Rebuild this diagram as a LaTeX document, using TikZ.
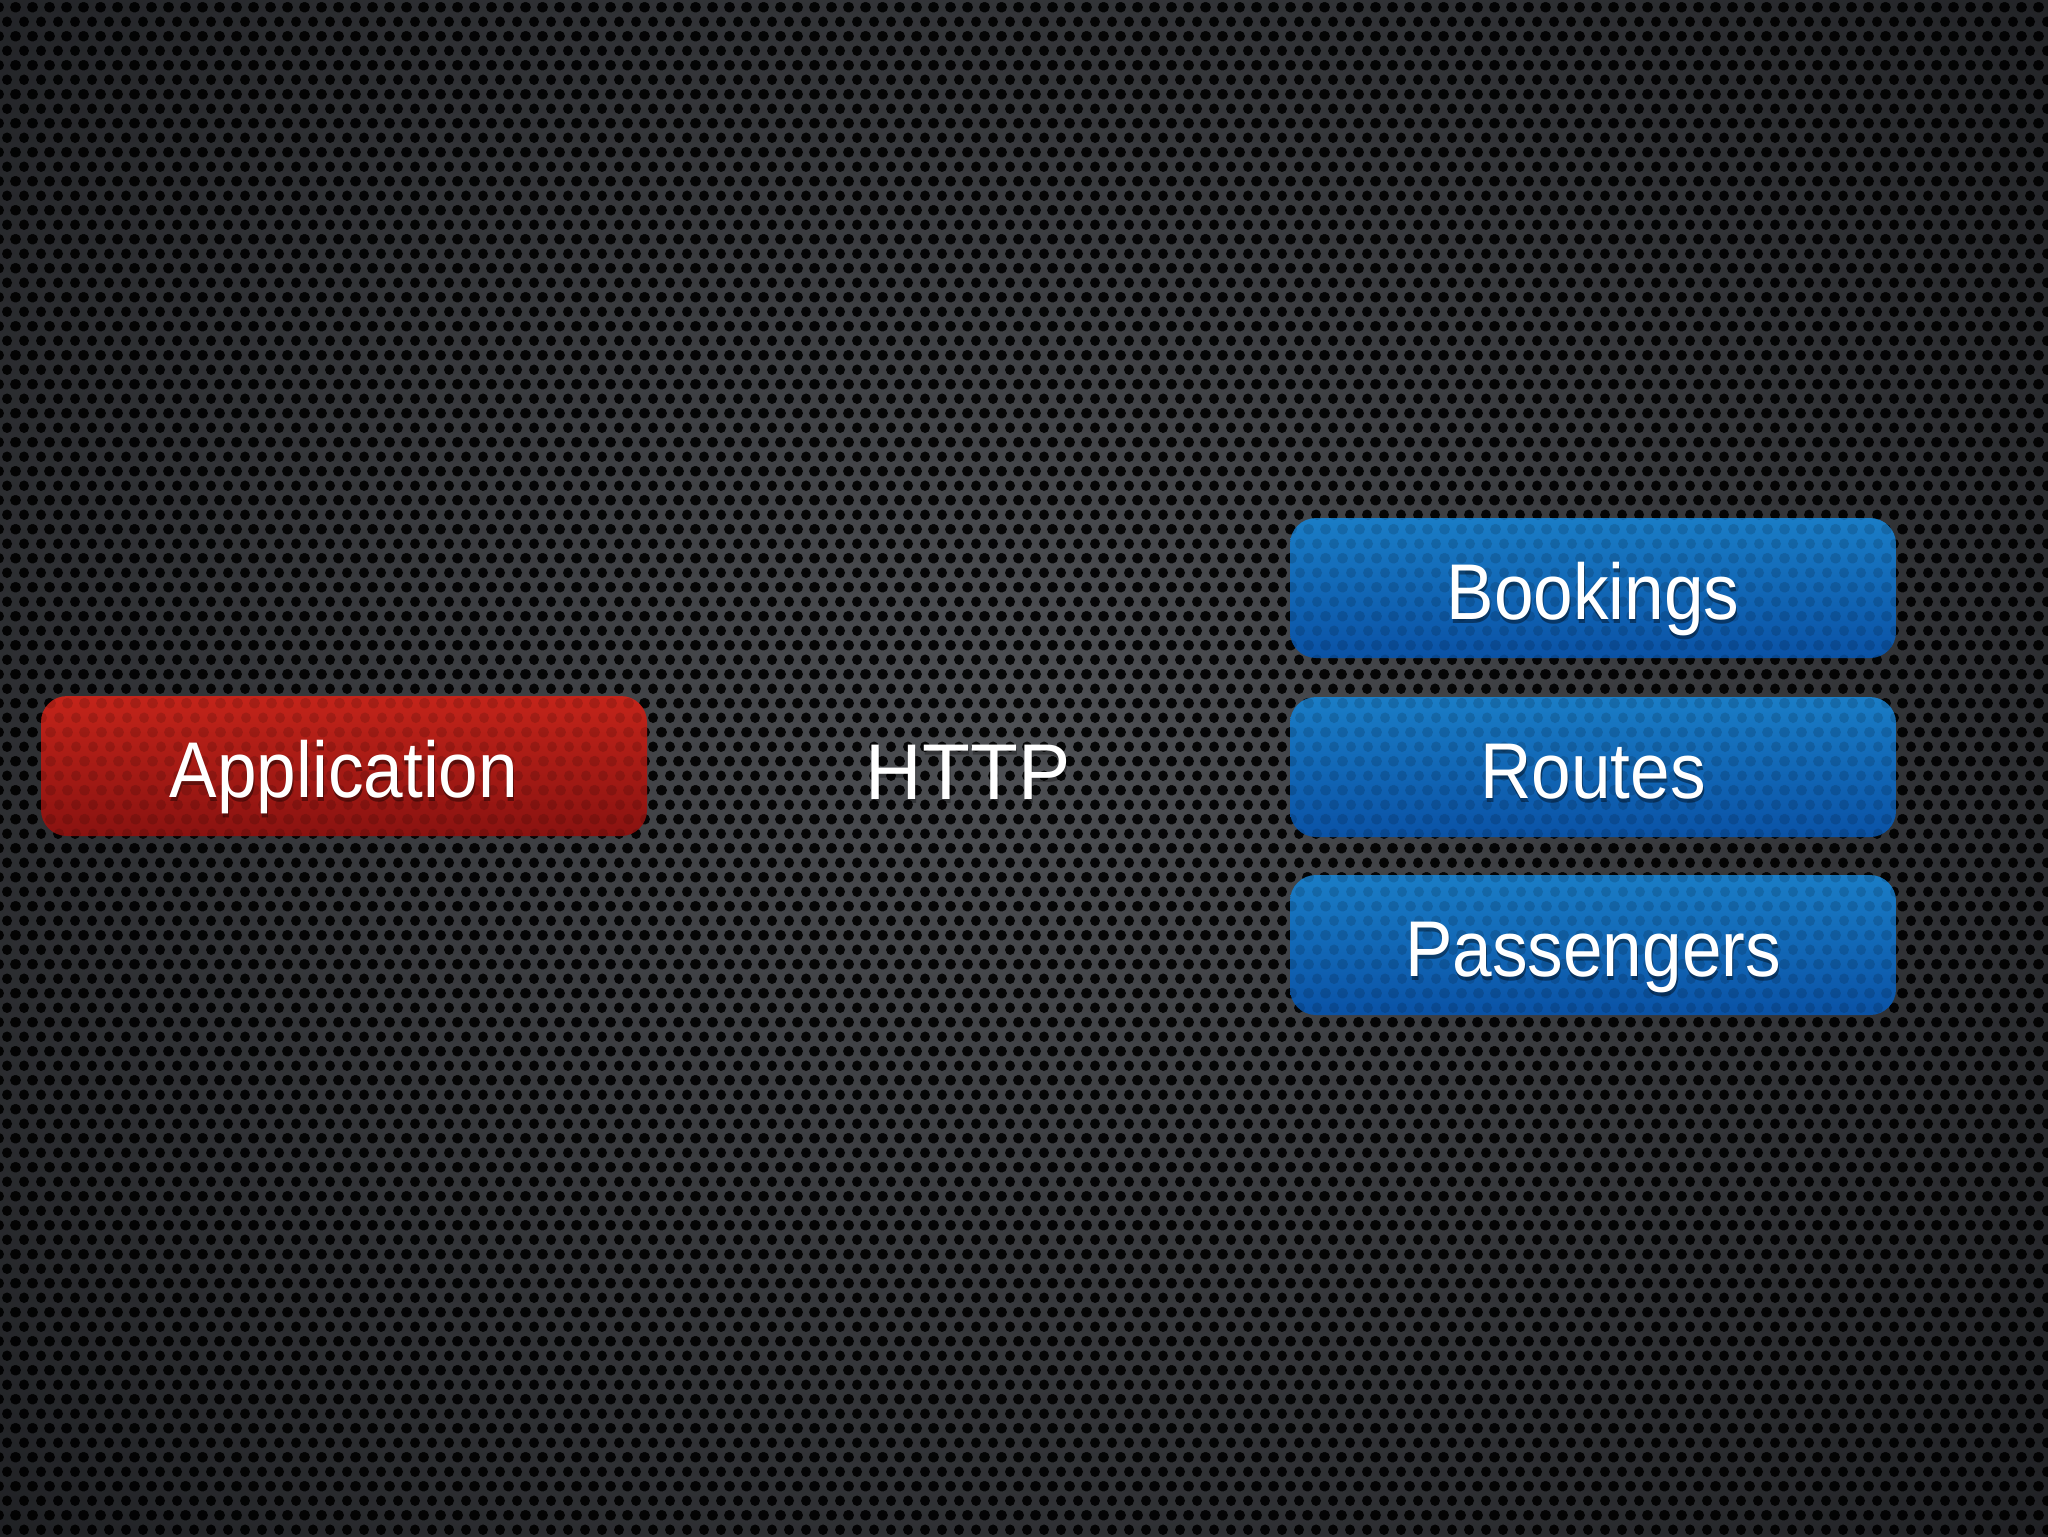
\documentclass[tikz,border=0pt]{standalone}
\usepackage{fontspec}
\setmainfont{Liberation Sans}[FakeStretch=0.9]
\usetikzlibrary{patterns}
\definecolor{bgin}{HTML}{4E5054}
\definecolor{bgout}{HTML}{0C0D10}
\definecolor{redtop}{HTML}{C4241A}
\definecolor{redbot}{HTML}{8A1210}
\definecolor{bluetop}{HTML}{1A7DC6}
\definecolor{bluebot}{HTML}{0A52A6}
\pgfdeclarepatternformonly{hexholes}{\pgfpointorigin}{\pgfpoint{4.84pt}{8.25pt}}{\pgfpoint{4.84pt}{8.25pt}}{
  \pgfpathcircle{\pgfpoint{2.42pt}{2.06pt}}{1.5pt}
  \pgfpathcircle{\pgfpoint{0pt}{6.19pt}}{1.5pt}
  \pgfpathcircle{\pgfpoint{4.84pt}{6.19pt}}{1.5pt}
  \pgfusepath{fill}
}
\tikzset{
  holes/.style={pattern=hexholes, pattern color=black},
  box/.style={rounded corners=2.6mm, minimum width=60.6mm, minimum height=14mm, inner sep=0pt,
    path picture={\fill[holes, opacity=0.14] (path picture bounding box.south west) rectangle (path picture bounding box.north east);}},
  redbox/.style={box, top color=redtop, bottom color=redbot},
  bluebox/.style={box, top color=bluetop, bottom color=bluebot},
  lbl/.style={text=white, inner sep=0pt, anchor=base, font=\fontsize{22.5}{26}\selectfont},
  lblshadow/.style={lbl, text=black, opacity=0.4}
}
\begin{document}
\begin{tikzpicture}[x=0.1mm, y=-0.1mm]
\useasboundingbox (0,0) rectangle (2048,1536);
\shade[inner color=bgin, outer color=bgout] (-976,-980) rectangle (3024,2420);
\fill[holes, opacity=0.92] (0,0) rectangle (2048,1536);

\node[redbox] (app) at (344,766) {};
\node[bluebox] (book) at (1593,588) {};
\node[bluebox] (rout) at (1593,767) {};
\node[bluebox] (pass) at (1593,945) {};

\node[lblshadow] (appS) at ([shift={(1,35)}]app) {Application};
\node[lbl] (appT) at ([shift={(0,31)}]app) {Application};
\node[lblshadow] (bookS) at ([shift={(1,35)}]book) {Bookings};
\node[lbl] (bookT) at ([shift={(0,31)}]book) {Bookings};
\node[lblshadow] (routS) at ([shift={(1,35)}]rout) {Routes};
\node[lbl] (routT) at ([shift={(0,31)}]rout) {Routes};
\node[lblshadow] (passS) at ([shift={(1,35)}]pass) {Passengers};
\node[lbl] (passT) at ([shift={(0,31)}]pass) {Passengers};
\node[lblshadow, opacity=0.3, xscale=1.1] (httpS) at (969,803) {HTTP};
\node[lbl, xscale=1.1] (http) at (968,799) {HTTP};
\end{tikzpicture}
\end{document}
